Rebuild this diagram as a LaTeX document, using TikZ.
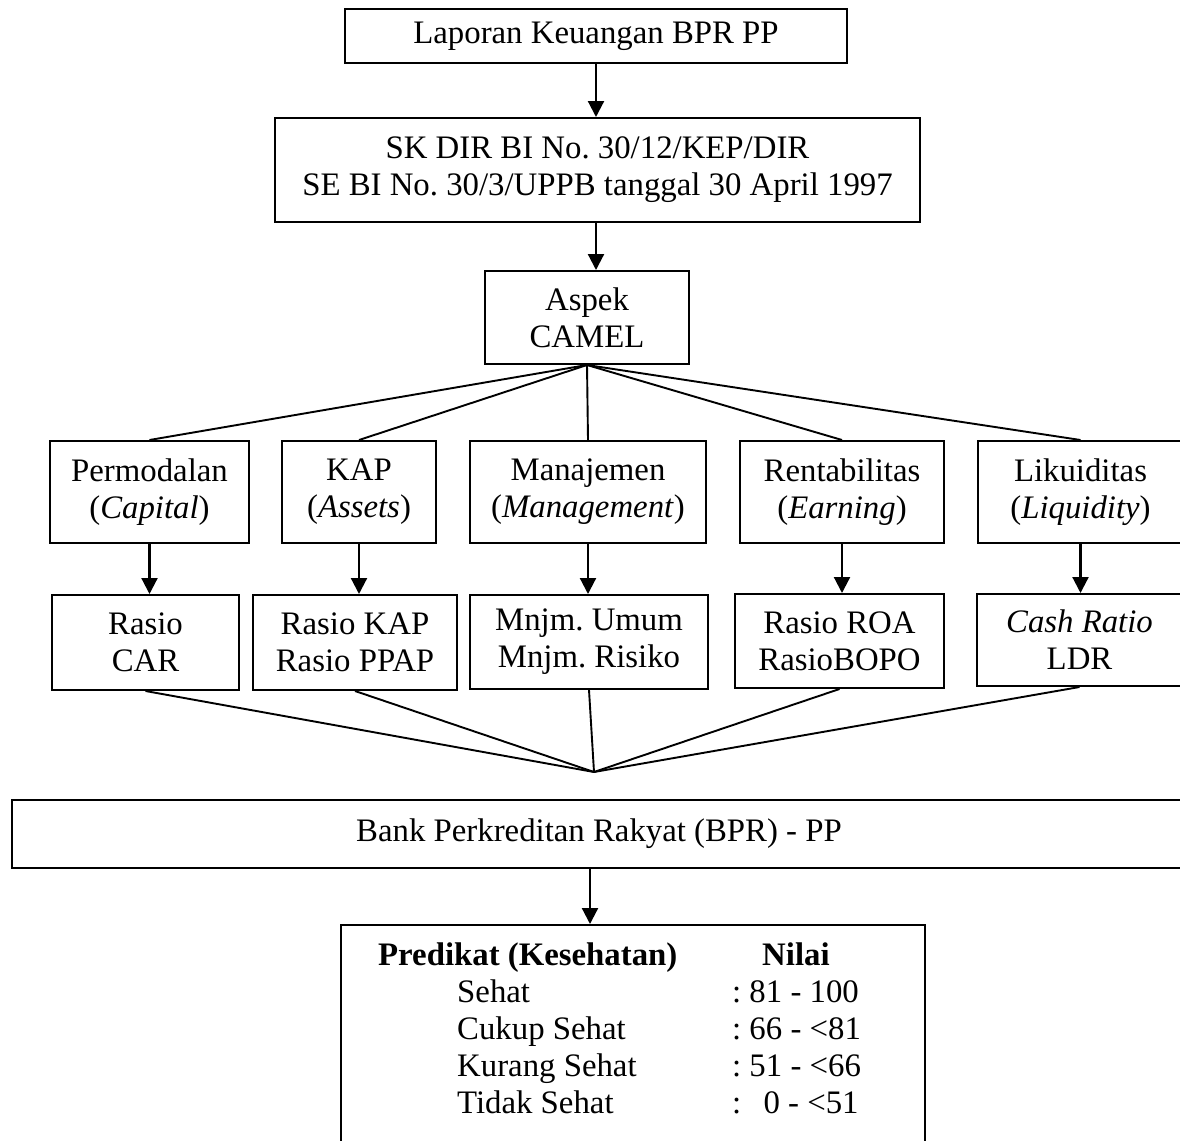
\documentclass[tikz,border=0pt]{standalone}
\usepackage{fontspec}
\setmainfont{Liberation Serif}
\usetikzlibrary{arrows.meta}
\frenchspacing
\newcommand\mainsize{\fontsize{32.8}{37}\selectfont}
\tikzset{
  box/.style={draw, line width=2pt, inner sep=0pt, align=center, font=\mainsize},
  lbl/.style={inner sep=0pt, anchor=base west, font=\mainsize},
  arr/.style={line width=2.2pt, -{Triangle[length=16pt,width=16pt]}},
  fan/.style={line width=1.9pt}
}
\begin{document}
\begin{tikzpicture}[x=1pt, y=-1pt]
\useasboundingbox (0,0) rectangle (1180,1140);
\fill[white] (0,0) rectangle (1180,1140);
% level 0
\node[box, minimum width=502pt, minimum height=54pt] (top) at (596,36) {Laporan Keuangan BPR PP};
\node[box, minimum width=645pt, minimum height=104pt] (sk) at (597.5,170) {SK DIR BI No. 30/12/KEP/DIR\\SE BI No. 30/3/UPPB tanggal 30 April 1997};
\node[box, minimum width=204pt, minimum height=93pt] (asp) at (587,317.5) {Aspek\\CAMEL};
% level 2
\node[box, minimum width=199pt, minimum height=102pt] (perm) at (149.5,492) {Permodalan\\(\textit{Capital})};
\node[box, minimum width=154pt, minimum height=102pt] (kap) at (359,492) {KAP\\(\textit{Assets})};
\node[box, minimum width=236pt, minimum height=102pt] (man) at (588,492) {Manajemen\\(\textit{Management})};
\node[box, minimum width=204pt, minimum height=102pt] (ren) at (842,492) {Rentabilitas\\(\textit{Earning})};
\node[box, minimum width=205pt, minimum height=102pt] (lik) at (1080.5,492) {Likuiditas\\(\textit{Liquidity})};
% level 3
\node[box, minimum width=187pt, minimum height=95pt] (car) at (145.5,642.5) {Rasio\\CAR};
\node[box, minimum width=204pt, minimum height=95pt] (kap2) at (355,642.5) {Rasio KAP\\Rasio PPAP};
\node[box, minimum width=238pt, minimum height=94pt] (mnj) at (589,642) {Mnjm. Umum\\Mnjm. Risiko};
\node[box, minimum width=209pt, minimum height=94pt] (roa) at (839.5,641) {Rasio ROA\\RasioBOPO};
\node[box, minimum width=205pt, minimum height=92pt] (cash) at (1079.5,640) {\textit{Cash Ratio}\\LDR};
\coordinate (conv) at (594,772);
% bottom
\node[box, minimum width=1174pt, minimum height=68pt] (bank) at (599,834) {Bank Perkreditan Rakyat (BPR) - PP};
\node[box, minimum width=584pt, minimum height=240pt] (pred) at (633,1045) {};
% predikat text
\node[lbl, font=\mainsize\bfseries] (h1) at (378,965) {Predikat (Kesehatan)};
\node[lbl, font=\mainsize\bfseries] (h2) at (762,965) {Nilai};
\node[lbl] (r1) at (457,1002) {Sehat};
\node[lbl] (r2) at (457,1039) {Cukup Sehat};
\node[lbl] (r3) at (457,1076) {Kurang Sehat};
\node[lbl] (r4) at (457,1113) {Tidak Sehat};
\node[lbl] (v1) at (732,1002) {: 81 - 100};
\node[lbl] (v2) at (732,1039) {: 66 - <81};
\node[lbl] (v3) at (732,1076) {: 51 - <66};
\node[lbl] (v4) at (732,1113) {:\hspace*{0.68em}0 - <51};
% arrows
\draw[arr] (top.south) -- (top.south |- sk.north);
\draw[arr] (sk.south -| top.south) -- (top.south |- asp.north);
\foreach \a/\b in {perm/car, kap/kap2, man/mnj, ren/roa, lik/cash}
  \draw[arr] (\a.south) -- (\a.south |- \b.north);
\foreach \b in {perm, kap, man, ren, lik}
  \draw[fan] (asp.south) -- (\b.north);
\foreach \b in {car, kap2, mnj, roa, cash}
  \draw[fan] (\b.south) -- (conv);
\draw[arr] (bank.south -| 590,0) -- (590,0 |- pred.north);
\end{tikzpicture}
\end{document}
